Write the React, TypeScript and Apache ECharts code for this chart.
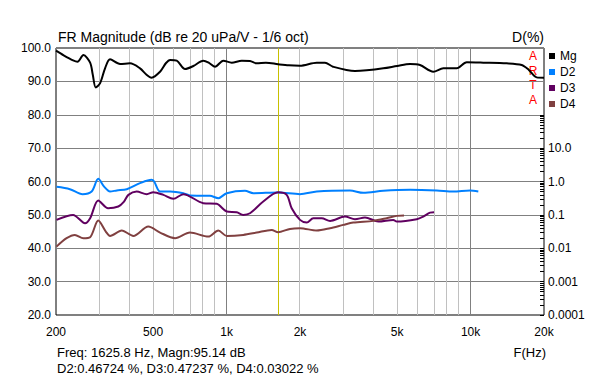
import React, { useEffect, useRef } from "react";
import * as echarts from "echarts";

const FONT = '"Liberation Sans", Arial, sans-serif';

// ---- axis / tick data ----
const xLabelFreqs = [200, 500, 1000, 2000, 5000, 10000, 20000];
const xMinorGridFreqs = [300, 400, 500, 600, 700, 800, 900, 2000, 3000, 4000, 5000, 6000, 7000, 8000, 9000];
const xMajorGridFreqs = [1000, 10000];
const dbMin = 20;
const dbMax = 100;
const pctLabelDb = [20, 30, 40, 50, 60, 70];
const pctLabels = ["0.0001", "0.001", "0.01", "0.1", "1.0", "10.0"];
const pctTickDecades = [-4, -3, -2, -1, 0, 1];
const pctTickMantissas = [1, 2, 3, 4, 5, 6, 7, 8, 9];
const cursorFreq = 1625.8;

// ---- series data ----
// Magnitude [Hz, dB]
const magData: [number, number][] = [
  [200, 99.2], [215, 97.8], [235, 96.3], [245, 95.9], [259, 97.9], [276, 95.6], [283, 92.0],
  [291, 88.2], [303, 89.4], [318, 94.0], [333, 96.6], [366, 95.2], [402, 95.4], [442, 93.9],
  [470, 92.0], [493, 91.1], [534, 92.9], [565, 95.5], [587, 96.4], [625, 96.2], [676, 93.7],
  [731, 94.6], [803, 96.2], [850, 95.5], [897, 94.4], [970, 96.2], [1050, 95.6], [1154, 96.2],
  [1248, 96.1], [1329, 95.4], [1450, 95.6], [1625.8, 95.14], [1800, 94.8], [2000, 94.7],
  [2342, 95.6], [2532, 95.6], [2730, 94.4], [3360, 93.1], [3752, 93.3], [4390, 93.9],
  [5000, 94.6], [5648, 95.2], [6204, 94.9], [7037, 92.9], [7734, 93.9], [8775, 93.9],
  [9646, 95.7], [11278, 95.6], [14061, 95.4], [16205, 94.9], [17300, 93.5], [18666, 91.2],
  [20000, 91.1],
];
// Distortion [Hz, %]
const d2Data: [number, number][] = [
  [201, 0.692], [228, 0.589], [257, 0.417], [280, 0.501], [298, 1.2], [315, 0.7], [333, 0.501],
  [355, 0.54], [390, 0.589], [442, 0.891], [493, 1.122], [505, 1.0], [534, 0.501], [587, 0.501],
  [665, 0.447], [708, 0.38], [855, 0.372], [925, 0.316], [1002, 0.447], [1190, 0.525],
  [1287, 0.447], [1625.8, 0.46724], [2000, 0.417], [2342, 0.501], [3205, 0.537], [3634, 0.457],
  [4390, 0.525], [5648, 0.562], [7268, 0.537], [8500, 0.501], [9950, 0.537], [10760, 0.501],
];
const d3Data: [number, number][] = [
  [201, 0.0708], [235, 0.1], [263, 0.0562], [276, 0.0794], [298, 0.269], [327, 0.158],
  [360, 0.178], [380, 0.25], [396, 0.398], [428, 0.501], [471, 0.417], [501, 0.479],
  [551, 0.398], [605, 0.302], [665, 0.417], [803, 0.224], [911, 0.214], [1002, 0.126],
  [1101, 0.12], [1171, 0.1], [1248, 0.112], [1414, 0.251], [1625.8, 0.47237], [1764, 0.398],
  [1849, 0.158], [2000, 0.0708], [2131, 0.0589], [2268, 0.0794], [2455, 0.0794], [2655, 0.0661],
  [3057, 0.0891], [3360, 0.0741], [3693, 0.0832], [4188, 0.0631], [4825, 0.0708], [4983, 0.0631],
  [6018, 0.0741], [6405, 0.0891], [6823, 0.117], [7086, 0.12],
];
const d4Data: [number, number][] = [
  [201, 0.0112], [221, 0.02], [239, 0.0251], [259, 0.02], [276, 0.0214], [298, 0.0676],
  [320, 0.0316], [333, 0.0234], [372, 0.0339], [415, 0.0234], [478, 0.0447], [534, 0.0295],
  [615, 0.02], [708, 0.0295], [842, 0.0224], [925, 0.0339], [1002, 0.0234], [1171, 0.0251],
  [1329, 0.0295], [1531, 0.0355], [1625.8, 0.03022], [1820, 0.038], [2000, 0.0398],
  [2342, 0.0339], [2655, 0.0398], [3008, 0.0501], [3307, 0.0589], [3994, 0.0661],
  [4532, 0.0794], [4983, 0.0933], [5338, 0.0955],
];

const seriesNames = ["Mg", "D2", "D3", "D4"];
const seriesColors = ["#000000", "#0080ff", "#600060", "#804040"];

const titleText = "FR Magnitude (dB re 20 uPa/V - 1/6 oct)";
const rightTitle = "D(%)";
const xTitle = "F(Hz)";
const readout1 = "Freq: 1625.8 Hz, Magn:95.14 dB";
const readout2 = "D2:0.46724 %, D3:0.47237 %, D4:0.03022 %";
const brand = ["A", "R", "T", "A"];

const lg = (f: number) => Math.log10(f);
const pctToDb = (p: number) => 60 + 10 * Math.log10(p);

function fmtFreq(v: number) {
  const f = Math.round(Math.pow(10, v));
  return f >= 1000 ? f / 1000 + "k" : String(f);
}

function buildOption(): any {
  const pctTicks: number[] = [];
  pctTickDecades.forEach((d) =>
    pctTickMantissas.forEach((m) => pctTicks.push(pctToDb(m * Math.pow(10, d))))
  );
  pctTicks.push(pctToDb(100));

  const gridMarks = [
    ...xMinorGridFreqs.map((f) => ({
      xAxis: lg(f),
      lineStyle: { color: "#c0c0c0", width: 1, type: "solid" },
    })),
    ...xMajorGridFreqs.map((f) => ({
      xAxis: lg(f),
      lineStyle: { color: "#808080", width: 1, type: "solid" },
    })),
    { xAxis: lg(cursorFreq), lineStyle: { color: "#c8c000", width: 1, type: "solid" } },
  ];

  const dist = (name: string, data: [number, number][], color: string) => ({
    name,
    type: "line",
    yAxisIndex: 1,
    data: data.map(([f, p]) => [lg(f), pctToDb(p)]),
    showSymbol: false,
    symbol: "none",
    smooth: 0.3,
    color,
    lineStyle: { color, width: 2 },
    z: 3,
    silent: true,
  });

  const textEl = (x: number, y: number, text: string, size: number, align = "left", fill = "#000") => ({
    type: "text",
    x,
    y,
    silent: true,
    style: {
      text,
      fill,
      font: `${size}px ${FONT}`,
      textAlign: align,
      textVerticalAlign: "middle",
    },
  });

  return {
    animation: false,
    backgroundColor: "#ffffff",
    textStyle: { fontFamily: FONT },
    grid: {
      left: 56,
      top: 48,
      width: 488,
      height: 267,
      show: true,
      borderColor: "#000",
      borderWidth: 1,
      backgroundColor: "transparent",
    },
    legend: {
      data: seriesNames,
      orient: "vertical",
      left: 549,
      top: 50,
      padding: 0,
      itemWidth: 6,
      itemHeight: 6,
      itemGap: 4,
      icon: "rect",
      selectedMode: false,
      textStyle: { fontSize: 12, color: "#000", fontFamily: FONT },
    },
    xAxis: {
      type: "value",
      min: lg(200),
      max: lg(20000),
      axisLine: { show: false },
      axisTick: { show: false },
      splitLine: { show: false },
      axisLabel: {
        customValues: xLabelFreqs.map(lg),
        formatter: (v: number) => fmtFreq(v),
        fontSize: 12,
        color: "#000",
        fontFamily: FONT,
        margin: 11,
      },
    },
    yAxis: [
      {
        type: "value",
        min: dbMin,
        max: dbMax,
        interval: 10,
        axisLine: { show: false },
        axisTick: { show: false },
        splitLine: { show: true, lineStyle: { color: "#808080", width: 1 } },
        axisLabel: {
          formatter: (v: number) => v.toFixed(1),
          fontSize: 12,
          color: "#000",
          fontFamily: FONT,
          margin: 5,
        },
      },
      {
        type: "value",
        position: "right",
        min: dbMin,
        max: dbMax,
        interval: 10,
        axisLine: { show: false },
        splitLine: { show: false },
        axisTick: {
          show: true,
          inside: true,
          length: 4,
          customValues: pctTicks,
          lineStyle: { color: "#000", width: 1 },
        },
        axisLabel: {
          customValues: pctLabelDb,
          formatter: (v: number) => {
            const i = pctLabelDb.indexOf(Math.round(v));
            return i >= 0 ? pctLabels[i] : "";
          },
          fontSize: 12,
          color: "#000",
          fontFamily: FONT,
          margin: 4,
        },
      },
    ],
    series: [
      {
        name: "Mg",
        type: "line",
        data: magData.map(([f, v]) => [lg(f), v]),
        showSymbol: false,
        symbol: "none",
        smooth: 0.3,
        color: seriesColors[0],
        lineStyle: { color: seriesColors[0], width: 2 },
        z: 4,
        silent: true,
        markLine: {
          silent: true,
          symbol: "none",
          z: 1,
          animation: false,
          label: { show: false },
          emphasis: { disabled: true },
          data: gridMarks,
        },
      },
      dist("D2", d2Data, seriesColors[1]),
      dist("D3", d3Data, seriesColors[2]),
      dist("D4", d4Data, seriesColors[3]),
    ],
    graphic: [
      textEl(58, 37, titleText, 14),
      textEl(544, 37, rightTitle, 14, "right"),
      ...brand.map((c, i) => textEl(533, 56 + i * 14.7, c, 12, "center", "#ff0000")),
      textEl(57, 352, readout1, 13),
      textEl(57, 368, readout2, 13),
      textEl(546, 352, xTitle, 13, "right"),
    ],
  };
}

export default function App() {
  const ref = useRef<HTMLDivElement>(null);
  useEffect(() => {
    if (!ref.current) return;
    const chart = echarts.init(ref.current, null, { renderer: "svg" });
    chart.setOption(buildOption());
    return () => chart.dispose();
  }, []);
  return (
    <div
      ref={ref}
      style={{ position: "fixed", left: 0, top: 0, width: 600, height: 379, background: "#fff" }}
    />
  );
}
